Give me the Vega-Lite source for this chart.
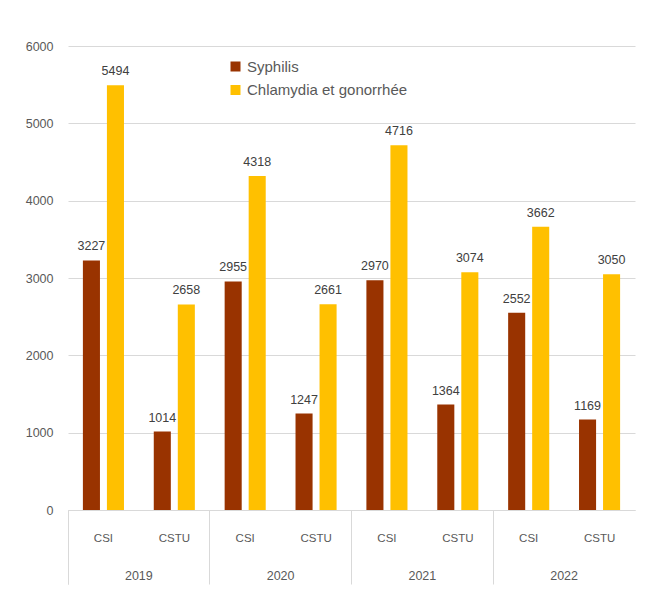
{
  "$schema": "https://vega.github.io/schema/vega-lite/v6.json",
  "autosize": "none",
  "width": 567,
  "height": 464,
  "padding": {"left": 68, "top": 46, "right": 19, "bottom": 84},
  "background": "white",
  "config": {
    "view": {"stroke": null},
    "font": "Liberation Sans",
    "axis": {"labelColor": "#595959", "labelFont": "Liberation Sans"},
    "legend": {"labelColor": "#595959", "labelFont": "Liberation Sans"}
  },
  "data": {
    "values": [
      {"year": "2019", "grp": "2019 CSI", "series": "Syphilis", "value": 3227},
      {"year": "2019", "grp": "2019 CSI", "series": "Chlamydia et gonorrhée", "value": 5494},
      {"year": "2019", "grp": "2019 CSTU", "series": "Syphilis", "value": 1014},
      {"year": "2019", "grp": "2019 CSTU", "series": "Chlamydia et gonorrhée", "value": 2658},
      {"year": "2020", "grp": "2020 CSI", "series": "Syphilis", "value": 2955},
      {"year": "2020", "grp": "2020 CSI", "series": "Chlamydia et gonorrhée", "value": 4318},
      {"year": "2020", "grp": "2020 CSTU", "series": "Syphilis", "value": 1247},
      {"year": "2020", "grp": "2020 CSTU", "series": "Chlamydia et gonorrhée", "value": 2661},
      {"year": "2021", "grp": "2021 CSI", "series": "Syphilis", "value": 2970},
      {"year": "2021", "grp": "2021 CSI", "series": "Chlamydia et gonorrhée", "value": 4716},
      {"year": "2021", "grp": "2021 CSTU", "series": "Syphilis", "value": 1364},
      {"year": "2021", "grp": "2021 CSTU", "series": "Chlamydia et gonorrhée", "value": 3074},
      {"year": "2022", "grp": "2022 CSI", "series": "Syphilis", "value": 2552},
      {"year": "2022", "grp": "2022 CSI", "series": "Chlamydia et gonorrhée", "value": 3662},
      {"year": "2022", "grp": "2022 CSTU", "series": "Syphilis", "value": 1169},
      {"year": "2022", "grp": "2022 CSTU", "series": "Chlamydia et gonorrhée", "value": 3050}
    ]
  },
  "layer": [
    {
      "encoding": {
        "x": {
          "field": "grp", "type": "nominal", "sort": null,
          "scale": {"paddingInner": 0, "paddingOuter": 0},
          "axis": {
            "title": null, "orient": "bottom", "labelAngle": 0, "ticks": false, "tickSize": 0,
            "domain": true, "domainColor": "#d9d9d9", "domainWidth": 1,
            "labelExpr": "split(datum.label, ' ')[1]",
            "labelFontSize": 11.5, "labelBaseline": "middle", "labelPadding": 28, "grid": false
          }
        },
        "xOffset": {
          "field": "series", "type": "nominal",
          "sort": ["Syphilis", "Chlamydia et gonorrhée"],
          "scale": {"paddingInner": 0.29, "paddingOuter": 0.62}
        },
        "y": {
          "field": "value", "type": "quantitative",
          "scale": {"domain": [0, 6000]},
          "axis": {
            "title": null, "values": [0, 1000, 2000, 3000, 4000, 5000, 6000], "format": "d",
            "ticks": false, "domain": false, "grid": true, "gridColor": "#d9d9d9", "gridWidth": 1,
            "labelFontSize": 12.5, "labelPadding": 15
          }
        }
      },
      "layer": [
        {
          "mark": {"type": "bar"},
          "encoding": {
            "color": {
              "field": "series", "type": "nominal",
              "sort": ["Syphilis", "Chlamydia et gonorrhée"],
              "scale": {"domain": ["Syphilis", "Chlamydia et gonorrhée"], "range": ["#993300", "#FFC000"]},
              "legend": {
                "title": null, "orient": "none", "legendX": 160, "legendY": 13,
                "symbolType": "square", "symbolSize": 100, "symbolStrokeWidth": 0,
                "labelFontSize": 15, "labelOffset": 4, "rowPadding": 7.5, "padding": 0, "labelLimit": 0
              }
            }
          }
        },
        {
          "mark": {"type": "text", "baseline": "middle", "align": "center", "dy": -14, "fontSize": 12.5, "color": "#404040"},
          "encoding": {
            "text": {"field": "value", "type": "quantitative", "format": "d"}
          }
        }
      ]
    },
    {
      "mark": {"type": "bar", "opacity": 0},
      "encoding": {
        "x": {
          "field": "year", "type": "nominal", "sort": null,
          "scale": {"paddingInner": 0, "paddingOuter": 0},
          "axis": {
            "title": null, "orient": "bottom", "labelAngle": 0, "domain": false, "grid": false,
            "ticks": true, "tickSize": 74, "tickColor": "#d9d9d9", "tickWidth": 1,
            "bandPosition": 0, "tickExtra": true,
            "labelFontSize": 12.5, "labelBaseline": "middle", "labelPadding": -9
          }
        },
        "y": {"datum": 0, "type": "quantitative"}
      }
    }
  ],
  "resolve": {"scale": {"x": "independent"}, "axis": {"x": "independent"}}
}
